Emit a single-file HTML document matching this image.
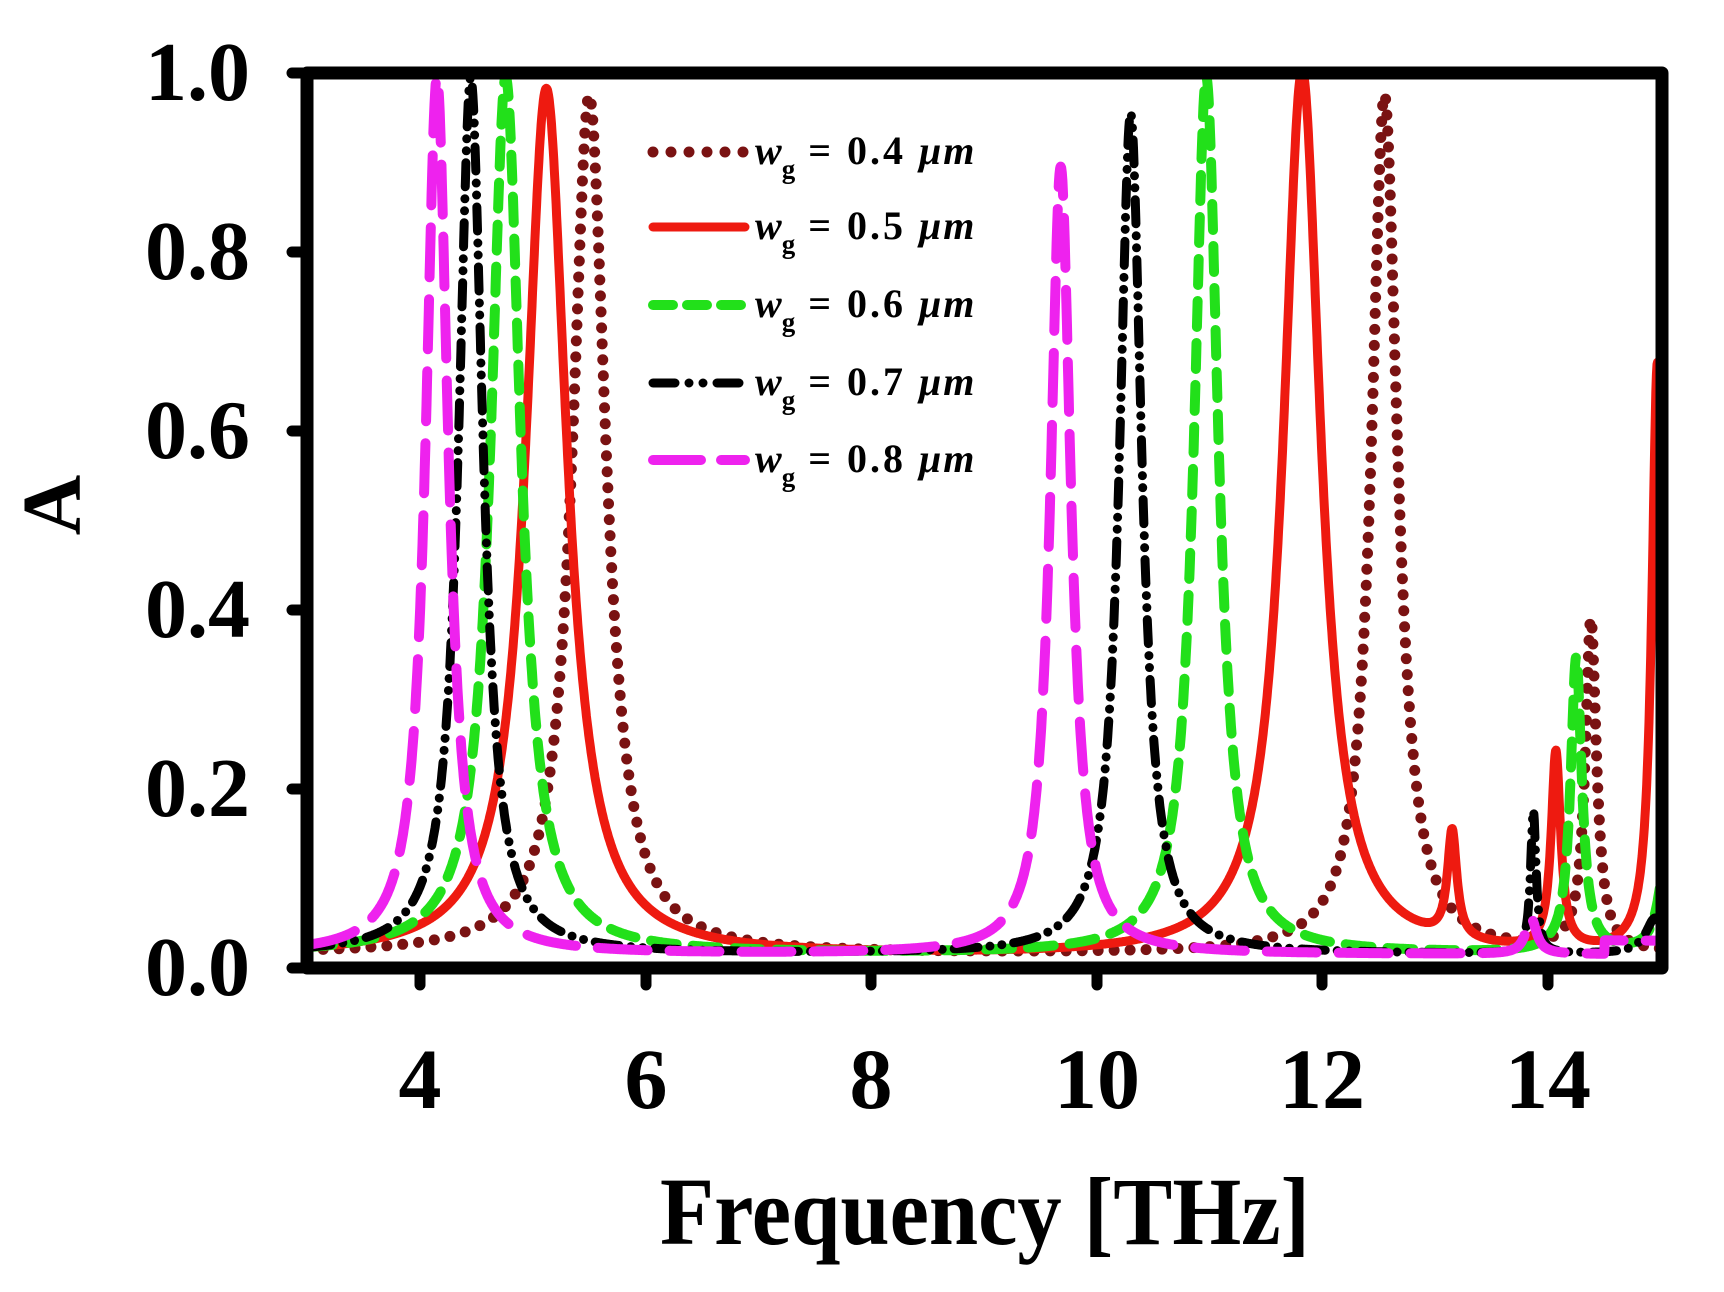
<!DOCTYPE html>
<html><head><meta charset="utf-8"><style>
html,body{margin:0;padding:0;background:#fff;}
svg{display:block;}
text{font-family:"Liberation Serif",serif;font-weight:bold;fill:#000;}
</style></head><body>
<svg id="s" width="1724" height="1292" viewBox="0 0 1724 1292" xmlns="http://www.w3.org/2000/svg">
<defs><clipPath id="c"><rect x="307" y="70" width="1356" height="900"/></clipPath></defs>
<g id="curves" clip-path="url(#c)"></g>
<rect x="307" y="73" width="1355" height="895" fill="none" stroke="#000" stroke-width="13" stroke-linejoin="round"/>
<g stroke="#000" stroke-width="11" stroke-linecap="round">
<line x1="420" y1="968" x2="420" y2="985"/><line x1="646" y1="968" x2="646" y2="985"/><line x1="871" y1="968" x2="871" y2="985"/><line x1="1097" y1="968" x2="1097" y2="985"/><line x1="1322" y1="968" x2="1322" y2="985"/><line x1="1548" y1="968" x2="1548" y2="985"/>
<line x1="292" y1="968" x2="307" y2="968"/><line x1="292" y1="789" x2="307" y2="789"/><line x1="292" y1="610" x2="307" y2="610"/><line x1="292" y1="431" x2="307" y2="431"/><line x1="292" y1="252" x2="307" y2="252"/><line x1="292" y1="73" x2="307" y2="73"/>
</g>
<g font-size="84" text-anchor="end">
<text x="250" y="995">0.0</text><text x="250" y="816">0.2</text><text x="250" y="637">0.4</text><text x="250" y="458">0.6</text><text x="250" y="279">0.8</text><text x="250" y="100">1.0</text>
</g>
<g font-size="86" text-anchor="middle">
<text x="420" y="1108">4</text><text x="646" y="1108">6</text><text x="871" y="1108">8</text><text x="1097" y="1108">10</text><text x="1322" y="1108">12</text><text x="1548" y="1108">14</text>
</g>
<text x="985" y="1244" font-size="96" text-anchor="middle" textLength="650" lengthAdjust="spacingAndGlyphs">Frequency [THz]</text>
<text transform="translate(80,505) rotate(-90)" font-size="84" text-anchor="middle">A</text>
<g id="legend"></g>
</svg>
<script>
var X=function(f){return 420+(f-4)*112.8;};
var Y=function(a){return 968-a*895;};
function L(f,f0,A,g){return A*g*g/((f-f0)*(f-f0)+g*g);}
var series=[
 {col:"#7a1212",w:11,da:"0 16",cap:"round",fn:function(f){return 0.015+L(f,5.5,0.96,0.18)+L(f,12.55,0.96,0.14)+L(f,14.38,0.37,0.06);}},
 {col:"#ee1a10",w:9,da:"",cap:"round",fn:function(f){return 0.012+L(f,5.12,0.97,0.22)+L(f,11.82,0.99,0.2)+L(f,13.15,0.12,0.05)+L(f,14.07,0.22,0.05)+L(f,14.97,0.66,0.06);}},
 {col:"#22e01a",w:10,da:"26 16",cap:"round",fn:function(f){return 0.015+L(f,4.76,0.98,0.16)+L(f,10.97,0.98,0.13)+L(f,14.25,0.33,0.06)+L(f,15.05,0.11,0.08);}},
 {col:"#000",w:9,da:"24 12 0 12 0 12",cap:"round",fn:function(f){return 0.015+L(f,4.45,0.98,0.13)+L(f,10.3,0.94,0.12)+L(f,13.87,0.16,0.03)+L(f,14.95,0.04,0.1);}},
 {col:"#ee22ee",w:10,da:"50 22",cap:"round",fn:function(f){return 0.015+L(f,4.15,0.98,0.12)+L(f,9.68,0.88,0.11)+L(f,13.85,0.04,0.06)+(f>14.5?0.015:0);}}
];
var NS="http://www.w3.org/2000/svg",g=document.getElementById("curves");
series.forEach(function(s){
 var d="";for(var i=0;i<=2400;i++){var f=3+i*12.2/2400;var a=Math.min(s.fn(f),1.0);d+=(i?"L":"M")+X(f).toFixed(1)+" "+Y(a).toFixed(1);}
 var p=document.createElementNS(NS,"path");p.setAttribute("d",d);p.setAttribute("fill","none");p.setAttribute("stroke",s.col);p.setAttribute("stroke-width",s.w);p.setAttribute("stroke-linecap",s.cap);p.setAttribute("stroke-linejoin","round");if(s.da)p.setAttribute("stroke-dasharray",s.da);g.appendChild(p);
});
var lg=document.getElementById("legend"),ys=[152,227,305,383,460],vals=["0.4","0.5","0.6","0.7","0.8"];
series.forEach(function(s,i){
 var l=document.createElementNS(NS,"line");l.setAttribute("x1",653);l.setAttribute("x2",745);l.setAttribute("y1",ys[i]);l.setAttribute("y2",ys[i]);l.setAttribute("stroke",s.col);l.setAttribute("stroke-width",s.w);l.setAttribute("stroke-linecap","round");
 if(i==2)l.setAttribute("stroke-dasharray","20 14");if(i==3)l.setAttribute("stroke-dasharray","22 14 0 14 0 14");if(i==4)l.setAttribute("stroke-dasharray","48 20");if(i==0)l.setAttribute("stroke-dasharray","0 18");
 lg.appendChild(l);
 var t=document.createElementNS(NS,"text");t.setAttribute("x",755);t.setAttribute("y",ys[i]+12);t.setAttribute("font-size","40");
 t.innerHTML='<tspan font-style="italic">w</tspan><tspan font-size="27" dy="14">g</tspan><tspan dy="-14" letter-spacing="3"> = '+vals[i]+' </tspan><tspan font-style="italic" letter-spacing="2">μm</tspan>';
 lg.appendChild(t);
});
</script>
</body></html>
